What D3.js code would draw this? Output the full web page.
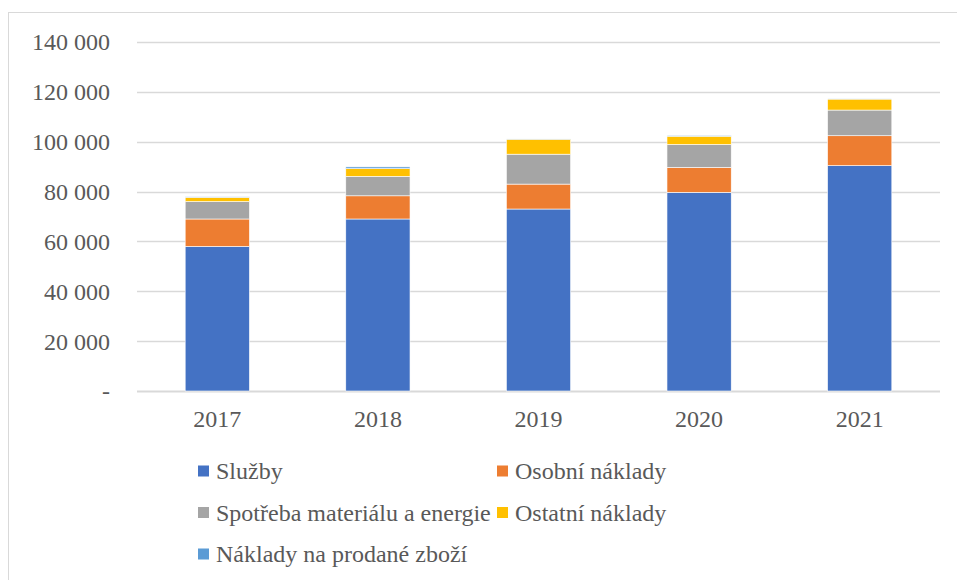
<!DOCTYPE html>
<html>
<head>
<meta charset="utf-8">
<script src="https://cdn.jsdelivr.net/npm/d3@7"></script>
</head>
<body style="margin:0">
<script>
const years = ["2017", "2018", "2019", "2020", "2021"];
const sluzby = [58000, 69000, 73000, 79700, 90400];
const osobni = [11000, 9300, 10000, 10000, 12000];
const spotreba = [7000, 7800, 12000, 9200, 10300];
const ostatni = [1700, 3100, 6000, 3300, 4400];
const zbozi = [200, 700, 100, 300, 200];
const seriesNames = ["Služby", "Osobní náklady", "Spotřeba materiálu a energie", "Ostatní náklady", "Náklady na prodané zboží"];
const colors = ["#4472c4", "#ed7d31", "#a5a5a5", "#ffc000", "#5b9bd5"];
const yTicks = [0, 20000, 40000, 60000, 80000, 100000, 120000, 140000];

const width = 957;
const height = 580;
const textColor = "#595959";

const svg = d3.select("body")
  .append("svg")
  .attr("width", width)
  .attr("height", height);

function serifText(sel) {
  sel.attr("font-family", "Times New Roman")
    .style("font-family", "'Times New Roman'")
    .attr("font-size", 24)
    .attr("fill", textColor);
}

// frame of the chart area
svg.append("rect")
  .attr("x", 8.5)
  .attr("y", 12.5)
  .attr("width", 960)
  .attr("height", 600)
  .attr("fill", "none")
  .attr("stroke", "#d9d9d9");

const x = d3.scaleBand()
  .domain(years)
  .range([137, 940])
  .paddingInner(0.6)
  .paddingOuter(0.3);

const y = d3.scaleLinear()
  .domain([0, 140000])
  .range([391, 42]);

// gridlines
svg.append("g")
  .selectAll("line")
  .data(yTicks)
  .enter()
  .append("line")
  .attr("x1", 137)
  .attr("x2", 940)
  .attr("y1", d => Math.round(y(d)) + 0.5)
  .attr("y2", d => Math.round(y(d)) + 0.5)
  .attr("stroke", "#d9d9d9")
  .attr("stroke-width", d => d === 0 ? 2 : 1.5);

// y labels
svg.append("g")
  .selectAll("text")
  .data(yTicks)
  .enter()
  .append("text")
  .attr("x", 110)
  .attr("y", d => y(d))
  .attr("dy", "0.35em")
  .attr("text-anchor", "end")
  .call(serifText)
  .text(d => d === 0 ? "-" : d3.format(",")(d).replace(/,/g, " "));

const table = years.map((yr, i) => ({
  year: yr,
  s0: sluzby[i], s1: osobni[i], s2: spotreba[i], s3: ostatni[i], s4: zbozi[i]
}));
const stack = d3.stack().keys(["s0", "s1", "s2", "s3", "s4"]);
const layers = stack(table);

svg.append("g")
  .selectAll("g")
  .data(layers)
  .enter()
  .append("g")
  .attr("fill", (d, i) => colors[i])
  .selectAll("rect")
  .data(d => d)
  .enter()
  .append("rect")
  .attr("x", d => x(d.data.year))
  .attr("width", x.bandwidth())
  .attr("y", d => y(d[1]))
  .attr("height", d => y(d[0]) - y(d[1]))
  .attr("stroke", "#fff")
  .attr("stroke-width", 0.6);

// x labels
svg.append("g")
  .selectAll("text")
  .data(years)
  .enter()
  .append("text")
  .attr("x", d => x(d) + x.bandwidth() / 2)
  .attr("y", 427)
  .attr("text-anchor", "middle")
  .call(serifText)
  .text(d => d);

// legend
const legendPos = [
  [198, 471], [497, 471],
  [198, 512.5], [497, 512.5],
  [198, 554]
];
const legend = svg.append("g")
  .selectAll("g")
  .data(seriesNames)
  .enter()
  .append("g")
  .attr("transform", (d, i) => "translate(" + legendPos[i][0] + "," + legendPos[i][1] + ")");

legend.append("rect")
  .attr("x", 0)
  .attr("y", -5.5)
  .attr("width", 11)
  .attr("height", 11)
  .attr("fill", (d, i) => colors[i]);

legend.append("text")
  .attr("x", 18)
  .attr("y", 0)
  .attr("dy", "0.35em")
  .call(serifText)
  .text(d => d);
</script>
</body>
</html>
